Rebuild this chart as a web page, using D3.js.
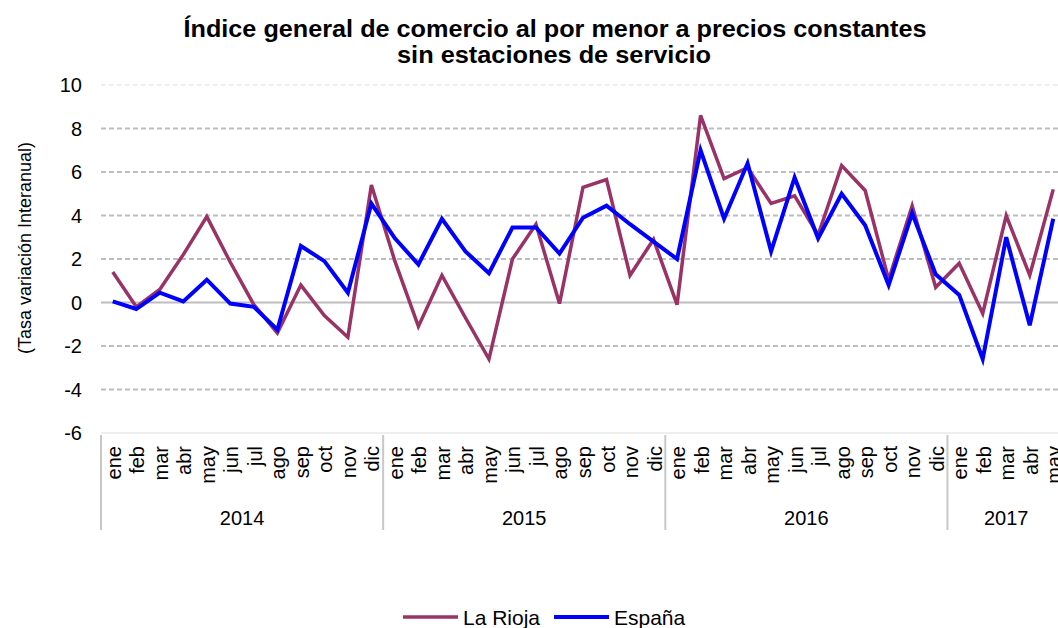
<!DOCTYPE html>
<html lang="es">
<head>
    <meta charset="UTF-8">
    <title>Índice general de comercio al por menor</title>
    <style>
        html, body { margin: 0; padding: 0; background: #fff; }
        svg { display: block; font-family: "Liberation Sans", Arial, sans-serif; }
    </style>
</head>
<body>
    <svg width="1058" height="628"></svg>
    <script src="https://d3js.org/d3.v7.min.js"></script>
    <script>
        const years = ["2014", "2015", "2016", "2017"]
        const monthNames = ["ene", "feb", "mar", "abr", "may", "jun", "jul", "ago", "sep", "oct", "nov", "dic"]
        const monthsPerYear = [12, 12, 12, 5]

        // tasa de variación interanual, ene 2014 - may 2017
        const laRioja = [
            1.4, -0.2, 0.6, 2.2, 3.95, 1.85, -0.1, -1.4, 0.8, -0.6, -1.6, 5.4,
            1.9, -1.1, 1.25, -0.7, -2.6, 2.0, 3.6, -0.05, 5.3, 5.65, 1.25, 2.9,
            -0.1, 8.6, 5.7, 6.2, 4.55, 4.9, 3.1, 6.3, 5.15, 1.05, 4.45, 0.7,
            1.8, -0.5, 4.0, 1.25, 5.2
        ]
        const espana = [
            0.05, -0.3, 0.45, 0.05, 1.05, -0.05, -0.2, -1.25, 2.6, 1.9, 0.45, 4.55,
            2.95, 1.75, 3.85, 2.35, 1.35, 3.45, 3.45, 2.25, 3.9, 4.45, 3.6, 2.8,
            2.0, 7.0, 3.85, 6.4, 2.35, 5.75, 2.95, 5.0, 3.55, 0.8, 4.1, 1.3,
            0.35, -2.6, 3.0, -1.05, 3.85
        ]
        const yTicks = [-6, -4, -2, 0, 2, 4, 6, 8, 10]

        const series = [
            { name: "La Rioja", values: laRioja, color: "#993366", width: 3.5 },
            { name: "España", values: espana, color: "#0000ff", width: 4 }
        ]

        const months = []
        years.forEach((y, yi) => {
            for (let m = 0; m < monthsPerYear[yi]; m++) months.push({ key: y + "-" + m, year: y, label: monthNames[m] })
        })

        const svg = d3.select("svg")

        const x = d3.scaleBand()
            .domain(months.map(d => d.key))
            .range([101, 1065])

        const y = d3.scaleLinear()
            .domain([-6, 10])
            .range([433, 85])

        // gridlines
        svg.append("g")
            .selectAll("line")
            .data(yTicks)
            .enter()
            .append("line")
                .attr("x1", 101)
                .attr("x2", 1058)
                .attr("y1", d => y(d))
                .attr("y2", d => y(d))
                .attr("stroke", d => (d == 10 || d == -6) ? "#eeeeee" : "#bdbdbd")
                .attr("stroke-width", 2)
                .attr("stroke-dasharray", d => (d == 0 || d == -6) ? null : "5,3")

        // y axis labels
        svg.append("g")
            .selectAll("text")
            .data(yTicks)
            .enter()
            .append("text")
                .attr("x", 82)
                .attr("y", d => y(d))
                .attr("dy", "0.36em")
                .attr("text-anchor", "end")
                .attr("font-size", 20)
                .text(d => d)

        svg.append("text")
            .attr("transform", "translate(31,248) rotate(-90)")
            .attr("text-anchor", "middle")
            .attr("font-size", 18)
            .text("(Tasa variación Interanual)")

        // month labels
        svg.append("g")
            .selectAll("text")
            .data(months)
            .enter()
            .append("text")
                .attr("transform", d => "translate(" + (x(d.key) + x.bandwidth() / 2 + 8) + ",446) rotate(-90)")
                .attr("text-anchor", "end")
                .attr("font-size", 20)
                .text(d => d.label)

        // year separators and labels
        const yearStart = years.map(yr => months.findIndex(m => m.year == yr))
        svg.append("g")
            .selectAll("line")
            .data(yearStart)
            .enter()
            .append("line")
                .attr("x1", d => x(months[d].key))
                .attr("x2", d => x(months[d].key))
                .attr("y1", 435)
                .attr("y2", 530)
                .attr("stroke", "#c8c8c8")
                .attr("stroke-width", 2)

        svg.append("g")
            .selectAll("text")
            .data(years)
            .enter()
            .append("text")
                .attr("x", (yr, i) => {
                    const a = x(months[yearStart[i]].key)
                    const b = x(months[yearStart[i] + monthsPerYear[i] - 1].key) + x.bandwidth()
                    return (a + b) / 2
                })
                .attr("y", 525)
                .attr("text-anchor", "middle")
                .attr("font-size", 20)
                .text(d => d)

        // lines
        const line = d3.line()
            .x((d, i) => x(months[i].key) + x.bandwidth() / 2)
            .y(d => y(d))

        svg.append("g")
            .selectAll("path")
            .data(series)
            .enter()
            .append("path")
                .attr("d", d => line(d.values))
                .attr("fill", "none")
                .attr("stroke", d => d.color)
                .attr("stroke-width", d => d.width)
                .attr("stroke-linejoin", "miter")

        // title
        svg.append("text")
            .attr("x", 555)
            .attr("y", 37)
            .attr("text-anchor", "middle")
            .attr("font-size", 23)
            .attr("font-weight", "bold")
            .attr("textLength", 743)
            .attr("lengthAdjust", "spacingAndGlyphs")
            .text("Índice general de comercio al por menor a precios constantes")
        svg.append("text")
            .attr("x", 554)
            .attr("y", 63)
            .attr("text-anchor", "middle")
            .attr("font-size", 23)
            .attr("font-weight", "bold")
            .attr("textLength", 314)
            .attr("lengthAdjust", "spacingAndGlyphs")
            .text("sin estaciones de servicio")

        // legend
        const legendX = [403, 554]
        const legend = svg.append("g")
            .selectAll("g")
            .data(series)
            .enter()
            .append("g")
                .attr("transform", (d, i) => "translate(" + legendX[i] + ",617)")
        legend.append("line")
            .attr("x1", 0)
            .attr("x2", 55)
            .attr("stroke", d => d.color)
            .attr("stroke-width", d => d.width)
        legend.append("text")
            .attr("x", 60)
            .attr("y", 8)
            .attr("font-size", 21)
            .text(d => d.name)
    </script>
</body>
</html>
